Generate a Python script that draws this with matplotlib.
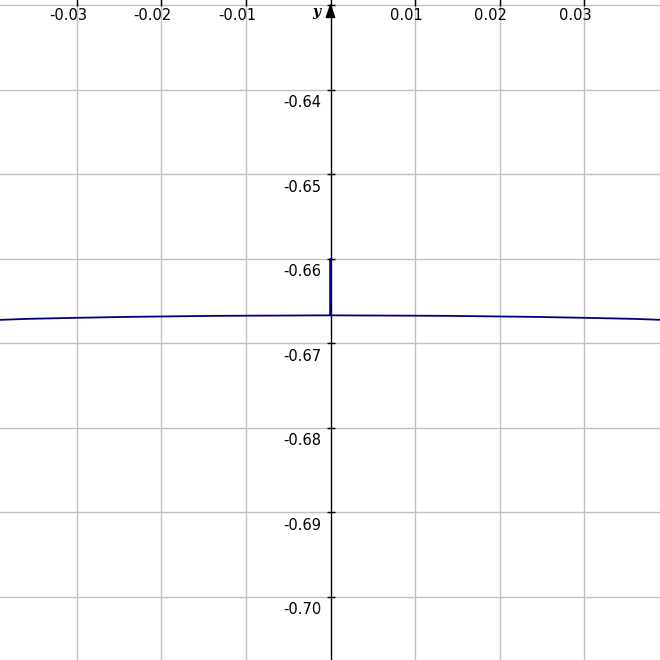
import matplotlib
matplotlib.use('Agg')
import matplotlib.pyplot as plt
import matplotlib.transforms as mtransforms

# curve (x, y); the spike at x=0 goes up to -0.66
curve_x = [-0.039, -0.036, -0.0305, -0.0238, -0.0139, 0.0, 0.0, 0.0,
           0.0139, 0.0238, 0.0305, 0.036, 0.039]
curve_y = [-0.66720, -0.66709, -0.66697, -0.66685, -0.66673, -0.66667,
           -0.66000, -0.66667, -0.66673, -0.66685, -0.66697, -0.66709, -0.66720]

x_ticks = [-0.03, -0.02, -0.01, 0.01, 0.02, 0.03]
x_labels = ['-0.03', '-0.02', '-0.01', '0.01', '0.02', '0.03']
y_ticks = [-0.63, -0.64, -0.65, -0.66, -0.67, -0.68, -0.69, -0.70]
y_labels = ['', '-0.64', '-0.65', '-0.66', '-0.67', '-0.68', '-0.69', '-0.70']

xlim = (-0.03911, 0.03899)
ylim = (-0.70746, -0.62935)

fig = plt.figure(figsize=(6.6, 6.6), dpi=100)
ax = fig.add_axes([0, 0, 1, 1])
ax.set_xlim(*xlim)
ax.set_ylim(*ylim)
for s in ax.spines.values():
    s.set_visible(False)
ax.set_xticks([])
ax.set_yticks([])

# grid
for x in x_ticks:
    ax.axvline(x, color='#c0c0c0', lw=1, zorder=1)
for y in y_ticks:
    ax.axhline(y, color='#c0c0c0', lw=1, zorder=1)

# y axis with arrow
ax.axvline(0, color='black', lw=1, zorder=2)
top = mtransforms.blended_transform_factory(ax.transData, ax.transAxes)
ax.annotate('', xy=(0, 1.0), xycoords=top, xytext=(0, 0.975), textcoords=top,
            arrowprops=dict(arrowstyle='-|>,head_length=0.9,head_width=0.3',
                            color='black', lw=1), zorder=3)
ax.annotate('y', xy=(0, 1.0), xycoords=top, xytext=(-14, -12),
            textcoords='offset pixels', ha='center', va='center',
            fontsize=10, fontstyle='italic', fontweight='bold', family='serif')

# tick marks on the y axis and at the top edge
ax.plot([0] * len(y_ticks), y_ticks, ls='none', marker='_', ms=6,
        mew=1, color='black', zorder=3)
ax.plot(x_ticks, [ylim[1]] * len(x_ticks), ls='none', marker='|', ms=9,
        mew=1, color='black', zorder=3)

# tick labels
for x, lab in zip(x_ticks, x_labels):
    ax.annotate(lab, xy=(x, 1.0), xycoords=top, xytext=(-9, -16),
                textcoords='offset pixels', ha='center', va='center',
                fontsize=10.5, color='black')
for y, lab in zip(y_ticks, y_labels):
    if lab:
        ax.annotate(lab, xy=(0, y), xytext=(-9, -13),
                    textcoords='offset pixels', ha='right', va='center',
                    fontsize=10.5, color='black')

# curve
ax.plot(curve_x, curve_y, color='#000080', lw=1.3, zorder=4)

fig.savefig('out.png', dpi=100)
